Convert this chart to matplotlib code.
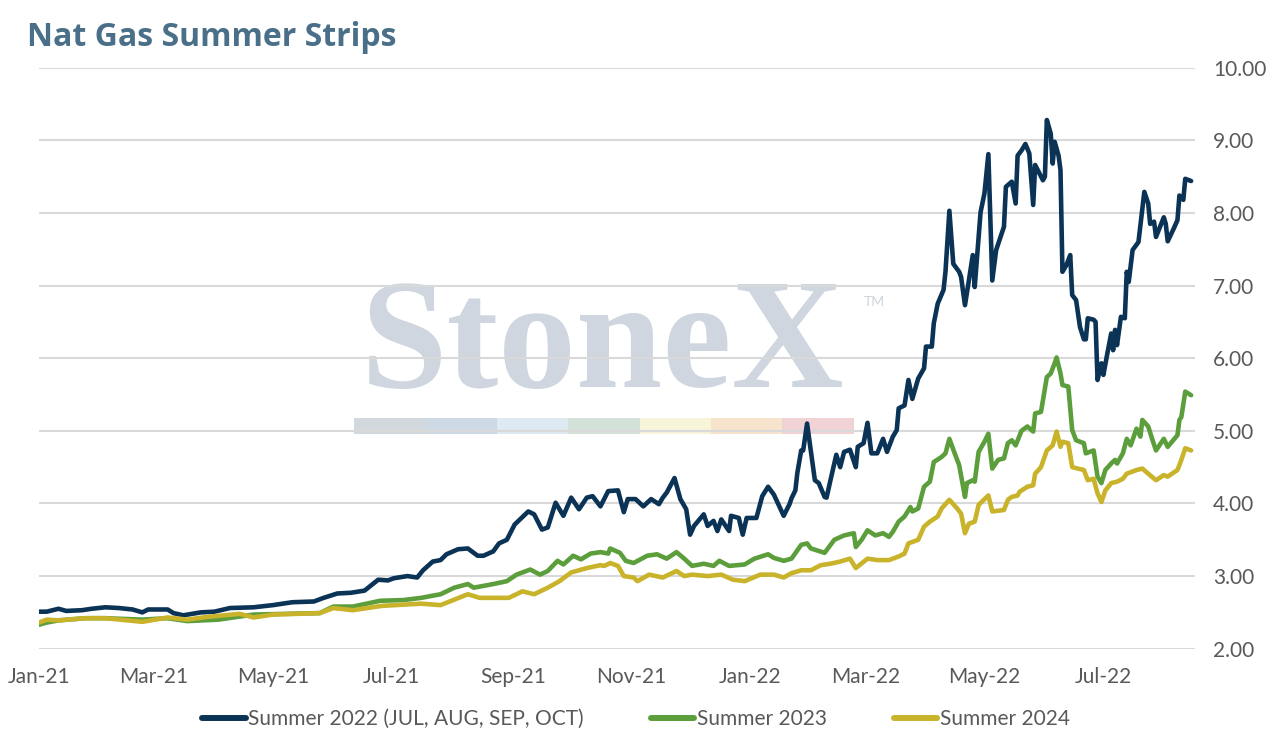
import matplotlib
matplotlib.use("Agg")
import matplotlib.pyplot as plt
import matplotlib.dates as mdates
import pandas as pd

# Summer 2022 strip (JUL, AUG, SEP, OCT)
s22_dates = [
    "2021-01-01", "2021-01-05", "2021-01-11", "2021-01-15", "2021-01-23", "2021-01-28",
    "2021-02-04", "2021-02-11", "2021-02-18", "2021-02-23", "2021-02-26", "2021-03-08",
    "2021-03-11", "2021-03-16", "2021-03-25", "2021-04-01", "2021-04-09", "2021-04-21",
    "2021-05-01", "2021-05-11", "2021-05-22", "2021-05-27", "2021-06-03", "2021-06-10",
    "2021-06-17", "2021-06-24", "2021-06-29", "2021-07-02", "2021-07-09", "2021-07-14",
    "2021-07-17", "2021-07-22", "2021-07-26", "2021-07-29", "2021-08-04", "2021-08-09",
    "2021-08-14", "2021-08-17", "2021-08-22", "2021-08-25", "2021-08-29", "2021-09-02",
    "2021-09-09", "2021-09-12", "2021-09-16", "2021-09-19", "2021-09-23", "2021-09-27",
    "2021-10-01", "2021-10-05", "2021-10-09", "2021-10-12", "2021-10-16", "2021-10-20",
    "2021-10-25", "2021-10-28", "2021-10-30", "2021-11-03", "2021-11-07", "2021-11-11",
    "2021-11-15", "2021-11-17", "2021-11-19", "2021-11-23", "2021-11-26", "2021-11-29",
    "2021-12-01", "2021-12-03", "2021-12-08", "2021-12-10", "2021-12-13", "2021-12-15",
    "2021-12-17", "2021-12-21", "2021-12-22", "2021-12-26", "2021-12-28", "2021-12-30",
    "2022-01-04", "2022-01-07", "2022-01-10", "2022-01-13", "2022-01-18", "2022-01-21",
    "2022-01-22", "2022-01-24", "2022-01-25", "2022-01-27", "2022-01-28", "2022-01-30",
    "2022-02-03", "2022-02-05", "2022-02-08", "2022-02-09", "2022-02-11", "2022-02-14",
    "2022-02-16", "2022-02-18", "2022-02-21", "2022-02-24", "2022-02-25", "2022-02-28",
    "2022-03-02", "2022-03-04", "2022-03-07", "2022-03-10", "2022-03-12", "2022-03-15",
    "2022-03-17", "2022-03-18", "2022-03-21", "2022-03-23", "2022-03-25", "2022-03-28",
    "2022-03-31", "2022-04-01", "2022-04-04", "2022-04-05", "2022-04-07", "2022-04-10",
    "2022-04-11", "2022-04-13", "2022-04-15", "2022-04-18", "2022-04-19", "2022-04-21",
    "2022-04-23", "2022-04-25", "2022-04-26", "2022-04-29", "2022-05-01", "2022-05-03",
    "2022-05-05", "2022-05-07", "2022-05-11", "2022-05-12", "2022-05-15", "2022-05-17",
    "2022-05-18", "2022-05-20", "2022-05-22", "2022-05-24", "2022-05-26", "2022-05-27",
    "2022-05-31", "2022-06-01", "2022-06-02", "2022-06-04", "2022-06-05", "2022-06-06",
    "2022-06-08", "2022-06-09", "2022-06-10", "2022-06-12", "2022-06-14", "2022-06-15",
    "2022-06-17", "2022-06-19", "2022-06-21", "2022-06-22", "2022-06-23", "2022-06-26",
    "2022-06-27", "2022-06-28", "2022-06-30", "2022-07-01", "2022-07-03", "2022-07-05",
    "2022-07-06", "2022-07-07", "2022-07-08", "2022-07-10", "2022-07-12", "2022-07-13",
    "2022-07-14", "2022-07-16", "2022-07-19", "2022-07-22", "2022-07-24", "2022-07-25",
    "2022-07-27", "2022-07-28", "2022-08-01", "2022-08-02", "2022-08-03", "2022-08-06",
    "2022-08-08", "2022-08-09", "2022-08-11", "2022-08-12", "2022-08-15",
]
s22_values = [
    2.51, 2.51, 2.55, 2.52, 2.53, 2.55,
    2.57, 2.56, 2.54, 2.50, 2.54, 2.54,
    2.49, 2.46, 2.50, 2.51, 2.56, 2.57,
    2.60, 2.64, 2.65, 2.70, 2.76, 2.77,
    2.80, 2.95, 2.94, 2.97, 3.00, 2.98,
    3.08, 3.20, 3.22, 3.30, 3.37, 3.38,
    3.28, 3.28, 3.34, 3.45, 3.50, 3.71,
    3.89, 3.85, 3.64, 3.67, 4.01, 3.83,
    4.08, 3.92, 4.08, 4.10, 3.96, 4.17,
    4.18, 3.88, 4.06, 4.06, 3.96, 4.06,
    3.99, 4.08, 4.15, 4.35, 4.06, 3.92,
    3.57, 3.69, 3.85, 3.69, 3.76, 3.62,
    3.78, 3.62, 3.83, 3.80, 3.57, 3.80,
    3.80, 4.10, 4.23, 4.12, 3.83, 3.99,
    4.07, 4.18, 4.42, 4.73, 4.73, 5.10,
    4.32, 4.28, 4.09, 4.08, 4.32, 4.67,
    4.50, 4.71, 4.74, 4.50, 4.78, 4.83,
    5.11, 4.69, 4.69, 4.89, 4.71, 4.92,
    5.01, 5.31, 5.35, 5.70, 5.44, 5.72,
    5.86, 6.16, 6.16, 6.48, 6.75, 6.94,
    7.19, 8.03, 7.30, 7.19, 7.12, 6.73,
    7.07, 7.42, 6.98, 8.01, 8.27, 8.81,
    7.07, 7.49, 7.81, 8.36, 8.43, 8.13,
    8.79, 8.86, 8.95, 8.82, 8.11, 8.66,
    8.45, 8.50, 9.28, 9.09, 8.68, 8.98,
    8.79, 8.59, 7.19, 7.28, 7.42, 6.87,
    6.80, 6.43, 6.26, 6.26, 6.55, 6.53,
    6.50, 5.70, 5.93, 5.77, 6.06, 6.34,
    6.11, 6.39, 6.18, 6.57, 6.55, 7.19,
    7.05, 7.49, 7.60, 8.29, 8.13, 7.85,
    7.88, 7.67, 7.94, 7.85, 7.61, 7.78,
    7.90, 8.24, 8.18, 8.47, 8.44,
]

# Summer 2023 strip
s23_dates = [
    "2021-01-01", "2021-01-05", "2021-01-11", "2021-01-25", "2021-02-04", "2021-02-23",
    "2021-03-08", "2021-03-18", "2021-04-03", "2021-04-21", "2021-05-08", "2021-05-25",
    "2021-06-01", "2021-06-11", "2021-06-25", "2021-07-07", "2021-07-16", "2021-07-26",
    "2021-08-02", "2021-08-09", "2021-08-12", "2021-08-22", "2021-08-29", "2021-09-03",
    "2021-09-10", "2021-09-15", "2021-09-19", "2021-09-24", "2021-09-27", "2021-10-02",
    "2021-10-06", "2021-10-11", "2021-10-16", "2021-10-20", "2021-10-21", "2021-10-26",
    "2021-10-29", "2021-11-02", "2021-11-09", "2021-11-14", "2021-11-19", "2021-11-24",
    "2021-11-28", "2021-12-02", "2021-12-08", "2021-12-13", "2021-12-16", "2021-12-21",
    "2021-12-29", "2022-01-03", "2022-01-10", "2022-01-13", "2022-01-18", "2022-01-22",
    "2022-01-27", "2022-01-30", "2022-02-01", "2022-02-08", "2022-02-13", "2022-02-18",
    "2022-02-23", "2022-02-24", "2022-02-27", "2022-03-02", "2022-03-06", "2022-03-10",
    "2022-03-13", "2022-03-15", "2022-03-18", "2022-03-21", "2022-03-24", "2022-03-25",
    "2022-03-28", "2022-03-31", "2022-04-03", "2022-04-05", "2022-04-09", "2022-04-11",
    "2022-04-13", "2022-04-16", "2022-04-18", "2022-04-21", "2022-04-22", "2022-04-25",
    "2022-04-26", "2022-04-28", "2022-05-01", "2022-05-03", "2022-05-05", "2022-05-08",
    "2022-05-11", "2022-05-13", "2022-05-15", "2022-05-17", "2022-05-20", "2022-05-23",
    "2022-05-26", "2022-05-27", "2022-05-30", "2022-06-02", "2022-06-04", "2022-06-06",
    "2022-06-07", "2022-06-09", "2022-06-10", "2022-06-13", "2022-06-15", "2022-06-17",
    "2022-06-21", "2022-06-22", "2022-06-26", "2022-06-28", "2022-06-30", "2022-07-02",
    "2022-07-05", "2022-07-07", "2022-07-08", "2022-07-11", "2022-07-13", "2022-07-15",
    "2022-07-18", "2022-07-20", "2022-07-21", "2022-07-24", "2022-07-26", "2022-07-28",
    "2022-08-01", "2022-08-03", "2022-08-08", "2022-08-09", "2022-08-10", "2022-08-12",
    "2022-08-15",
]
s23_values = [
    2.33, 2.36, 2.39, 2.42, 2.42, 2.40,
    2.42, 2.38, 2.40, 2.47, 2.48, 2.49,
    2.58, 2.58, 2.66, 2.67, 2.70, 2.75,
    2.84, 2.89, 2.84, 2.89, 2.93, 3.02,
    3.09, 3.02, 3.07, 3.21, 3.16, 3.28,
    3.23, 3.31, 3.33, 3.31, 3.38, 3.32,
    3.21, 3.18, 3.28, 3.30, 3.24, 3.33,
    3.24, 3.14, 3.17, 3.14, 3.21, 3.14,
    3.16, 3.24, 3.30, 3.25, 3.21, 3.24,
    3.43, 3.45, 3.38, 3.32, 3.50, 3.56,
    3.59, 3.40, 3.50, 3.63, 3.56, 3.59,
    3.54, 3.61, 3.75, 3.82, 3.95, 3.89,
    3.93, 4.23, 4.30, 4.57, 4.64, 4.69,
    4.89, 4.67, 4.53, 4.09, 4.28, 4.32,
    4.30, 4.71, 4.85, 4.96, 4.48, 4.60,
    4.62, 4.83, 4.87, 4.80, 5.00, 5.06,
    4.99, 5.24, 5.26, 5.74, 5.79, 5.93,
    6.01, 5.79, 5.63, 5.61, 5.01, 4.87,
    4.83, 4.69, 4.73, 4.37, 4.28, 4.46,
    4.55, 4.60, 4.55, 4.69, 4.89, 4.80,
    5.03, 4.92, 5.15, 5.06, 4.89, 4.73,
    4.89, 4.78, 4.94, 5.15, 5.19, 5.54,
    5.49,
]

# Summer 2024 strip
s24_dates = [
    "2021-01-01", "2021-01-05", "2021-01-11", "2021-01-25", "2021-02-04", "2021-02-23",
    "2021-03-08", "2021-03-18", "2021-03-29", "2021-04-14", "2021-04-21", "2021-05-01",
    "2021-05-25", "2021-06-01", "2021-06-11", "2021-06-26", "2021-07-16", "2021-07-26",
    "2021-08-09", "2021-08-15", "2021-08-30", "2021-09-06", "2021-09-12", "2021-09-19",
    "2021-09-25", "2021-10-01", "2021-10-09", "2021-10-16", "2021-10-18", "2021-10-21",
    "2021-10-25", "2021-10-28", "2021-11-02", "2021-11-04", "2021-11-10", "2021-11-17",
    "2021-11-24", "2021-11-28", "2021-12-02", "2021-12-10", "2021-12-17", "2021-12-23",
    "2021-12-29", "2022-01-06", "2022-01-13", "2022-01-18", "2022-01-22", "2022-01-27",
    "2022-02-01", "2022-02-06", "2022-02-11", "2022-02-16", "2022-02-21", "2022-02-24",
    "2022-03-02", "2022-03-07", "2022-03-13", "2022-03-18", "2022-03-21", "2022-03-23",
    "2022-03-28", "2022-03-31", "2022-04-03", "2022-04-07", "2022-04-09", "2022-04-13",
    "2022-04-17", "2022-04-19", "2022-04-21", "2022-04-23", "2022-04-26", "2022-04-28",
    "2022-05-03", "2022-05-05", "2022-05-11", "2022-05-13", "2022-05-15", "2022-05-18",
    "2022-05-19", "2022-05-23", "2022-05-26", "2022-05-27", "2022-05-30", "2022-06-02",
    "2022-06-05", "2022-06-07", "2022-06-09", "2022-06-10", "2022-06-13", "2022-06-15",
    "2022-06-18", "2022-06-21", "2022-06-23", "2022-06-26", "2022-06-28", "2022-06-30",
    "2022-07-02", "2022-07-05", "2022-07-08", "2022-07-11", "2022-07-13", "2022-07-18",
    "2022-07-21", "2022-07-24", "2022-07-28", "2022-08-01", "2022-08-03", "2022-08-08",
    "2022-08-10", "2022-08-12", "2022-08-15",
]
s24_values = [
    2.36, 2.40, 2.39, 2.42, 2.42, 2.37,
    2.43, 2.40, 2.44, 2.48, 2.43, 2.47,
    2.49, 2.56, 2.53, 2.59, 2.62, 2.60,
    2.75, 2.70, 2.70, 2.79, 2.75, 2.84,
    2.93, 3.05, 3.11, 3.15, 3.14, 3.18,
    3.14, 3.00, 2.98, 2.93, 3.02, 2.98,
    3.07, 3.00, 3.02, 3.00, 3.02, 2.95,
    2.93, 3.02, 3.02, 2.98, 3.04, 3.08,
    3.08, 3.15, 3.17, 3.20, 3.24, 3.11,
    3.24, 3.22, 3.22, 3.27, 3.31, 3.45,
    3.50, 3.68, 3.75, 3.82, 3.93, 4.05,
    3.93, 3.86, 3.59, 3.72, 3.75, 3.98,
    4.11, 3.89, 3.91, 4.05, 4.09, 4.11,
    4.16, 4.23, 4.25, 4.41, 4.50, 4.73,
    4.80, 4.99, 4.78, 4.85, 4.83, 4.50,
    4.48, 4.46, 4.32, 4.34, 4.14, 4.02,
    4.18, 4.28, 4.30, 4.34, 4.41, 4.46,
    4.48, 4.41, 4.32, 4.39, 4.37, 4.46,
    4.60, 4.76, 4.73,
]

series_labels = ["Summer 2022 (JUL, AUG, SEP, OCT)", "Summer 2023", "Summer 2024"]
series_colors = ["#0b3356", "#5c9e3b", "#c8b32b"]
y_ticks = [2, 3, 4, 5, 6, 7, 8, 9, 10]

font = "Lato"
grey = "#595959"

fig = plt.figure(figsize=(12.73, 7.39), dpi=100)
ax = fig.add_axes([39 / 1273, 1 - 648.7 / 739, (1195 - 39) / 1273, (648.7 - 67.7) / 739])

# watermark, kept under the gridlines
ax.text(603 / 1273, 1 - 387 / 739, "StoneX", fontsize=112, family="Liberation Serif",
        fontweight="bold", color="#cfd6df", ha="center", va="baseline",
        transform=fig.transFigure, zorder=0.5)
ax.text(874 / 1273, 1 - 302 / 739, "TM", fontsize=10, family=font, color="#cdd4dd",
        ha="center", va="center", transform=fig.transFigure, zorder=0.5)
bar_colors = ["#d3d8de", "#cfd9e5", "#dfe9f2", "#d4e1d8", "#f8f4da", "#f7e4cc", "#f1d2d5"]
for i, c in enumerate(bar_colors):
    ax.add_patch(plt.Rectangle(((354 + i * 71.4) / 1273, 1 - 434 / 739), 71.4 / 1273,
                               16 / 739, transform=fig.transFigure, color=c, lw=0,
                               zorder=0.5, clip_on=False))

all_dates = [s22_dates, s23_dates, s24_dates]
all_values = [s22_values, s23_values, s24_values]
for d, v, lab, col in zip(all_dates, all_values, series_labels, series_colors):
    ax.plot(pd.to_datetime(d), v, color=col, lw=3.3, label=lab,
            solid_joinstyle="round", solid_capstyle="round", zorder=3)

ax.set_xlim(pd.Timestamp("2021-01-01"), pd.Timestamp("2022-08-17"))
ax.set_ylim(2, 10)
ax.set_yticks(y_ticks)
ax.yaxis.set_major_formatter(matplotlib.ticker.FormatStrFormatter("%.2f"))
ax.yaxis.tick_right()
ax.xaxis.set_major_locator(mdates.MonthLocator(bymonth=[1, 3, 5, 7, 9, 11]))
ax.xaxis.set_major_formatter(mdates.DateFormatter("%b-%y"))
ax.grid(axis="y", color="#d9d9d9", lw=1.5)
ax.tick_params(length=0, labelsize=15, labelcolor=grey)
ax.tick_params(axis="y", pad=13)
ax.tick_params(axis="x", pad=13)
for lab in ax.get_xticklabels() + ax.get_yticklabels():
    lab.set_family(font)
for s in ax.spines.values():
    s.set_visible(False)

fig.text(27 / 1273, 1 - 46 / 739, "Nat Gas Summer Strips", fontsize=23, fontweight="bold",
         family="Open Sans", color="#4a6f88", va="baseline", ha="left")

leg = fig.legend(loc="center", bbox_to_anchor=(636 / 1273, 1 - 719 / 739), ncol=3,
                 frameon=False, handlelength=2.1, handletextpad=0.12, columnspacing=3.2,
                 prop={"family": font, "size": 15})
for t in leg.get_texts():
    t.set_color(grey)
for h in leg.legend_handles:
    h.set_linewidth(4.3)

fig.savefig("out.png", dpi=100)
